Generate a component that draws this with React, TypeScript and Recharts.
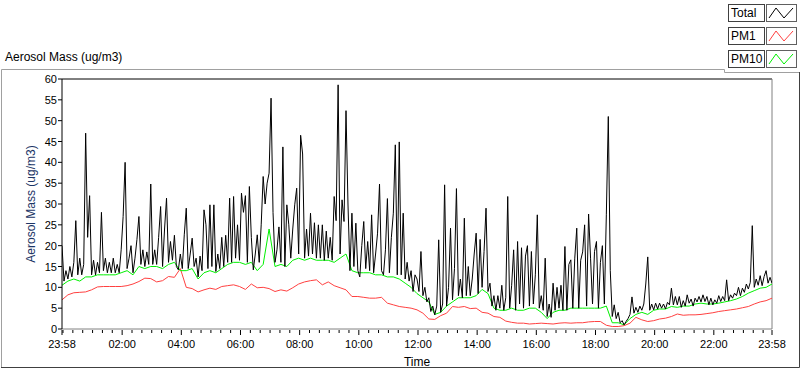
import { LineChart, Line, XAxis, YAxis, ReferenceLine } from 'recharts'

// minutes after 23:58, one Total sample every 4 min, PM samples every 12 min
const TOTAL_STEP = 4
const PM_STEP = 12

const TOTAL = [
  20, 11.5, 14, 12, 15, 12.5, 16, 26, 13, 17,
  13, 15.5, 47, 22, 32, 13, 16.5, 13, 16, 13.5,
  28, 14, 17, 13.5, 16, 13.5, 17, 13.5, 15.5, 13.5,
  19, 27, 40, 14.5, 17, 20, 13.5, 17, 21.5, 27,
  15.5, 19, 15, 18.5, 15.5, 34.8, 15.5, 19, 15.5, 22,
  29.4, 15, 24, 31.4, 16, 21, 16.5, 22.5, 15, 14.2,
  18, 14.5, 22.6, 29, 14.5, 18, 21.8, 15, 17, 12.5,
  17.5, 14, 28.6, 25, 14.5, 29.8, 15, 29.8, 13.8, 18,
  14.5, 22, 15, 22.5, 16, 31.4, 16, 31.8, 17, 25,
  16.5, 32.6, 28, 32, 16, 34.2, 22, 14.2, 18, 22.6,
  16, 25, 36.6, 30, 35, 37.4, 55.4, 28, 16, 19,
  24.5, 16, 43.7, 15, 29.8, 25, 17, 24, 29.8, 33.8,
  18, 46.5, 42, 17, 24, 17.5, 27.8, 18, 25.5, 17,
  25, 17, 25, 16.5, 23.5, 17, 22, 16.5, 31.8, 26,
  58.6, 18, 31, 25.8, 52.4, 30, 14, 27.8, 15, 25.4,
  14, 12.5, 20, 25.8, 14.5, 21, 14, 27.4, 13.5, 18,
  23, 34.8, 14, 13, 19, 31.3, 13.5, 22, 27.8, 44.2,
  13, 44.9, 13, 27.8, 12, 16, 11.5, 14, 9, 13,
  12, 9, 18.6, 8, 10, 6.5, 7.5, 4.2, 5.5, 3.4,
  5.5, 21.4, 4, 6, 34.6, 5.5, 10, 24.2, 7, 14.5,
  33.7, 8, 12, 7.5, 26.6, 8, 15, 8, 12, 18,
  23, 8.5, 21.5, 10, 18.6, 29, 9, 11, 5.5, 8,
  4.5, 8, 5, 10.5, 4.5, 7.5, 31.8, 5, 10.5, 19,
  4.5, 21, 6, 19.5, 5, 17.5, 20, 5.5, 18.6, 6,
  13, 27.4, 5, 8, 4.5, 17, 3, 6, 2.8, 11,
  4.5, 10, 5, 10.5, 4.5, 19.8, 4.5, 15.5, 16.6, 5,
  17, 24.2, 5, 16.5, 18.5, 25, 5.5, 27.6, 17, 6,
  18.6, 21, 5, 16, 20, 6, 27.4, 51, 14, 3,
  5.8, 2.5, 4, 1.5, 2, 1, 1.8, 2.5, 3.5, 7.7,
  3.8, 5.2, 4, 5.5, 4.5, 6, 10.8, 17.3, 4.5, 6,
  4.6, 6.2, 4.8, 6.2, 5, 6, 4.8, 6.4, 5.8, 9.8,
  5.8, 7.8, 5.8, 7.8, 5.2, 6.8, 5.5, 8.2, 6.2, 7.2,
  5.5, 7.4, 6.5, 7.8, 6.5, 8.2, 6.6, 7.8, 5.8, 7.4,
  5.8, 7, 6.2, 8, 6.6, 7.8, 6.8, 11.8, 6.8, 8.2,
  7.4, 8.6, 8, 10, 8, 9.8, 8.8, 10.8, 9.6, 11.2,
  24.8, 10, 12, 10.5, 12.8, 10.4, 12.6, 14, 11, 12.4, 11
]

const PM10 = [
  10.5, 11.5, 12, 11.5, 12.5, 12.5, 13, 13, 13, 13,
  13.5, 14, 13, 15, 14.5, 15, 15, 14.5, 15.5, 16,
  14, 14, 14.5, 12, 13.5, 14, 13.5, 14.5, 15.5, 16,
  16, 15.5, 16, 14, 15.5, 24, 15, 15.5, 15, 16.5,
  17, 16.5, 17, 16.5, 16.5, 16.5, 16, 17, 18, 14,
  13.5, 13.5, 13.5, 13, 13, 12.5, 12.5, 12, 11, 10,
  8.5, 7.5, 6.5, 3.5, 4, 5.5, 6.5, 7.5, 7.5, 7.5,
  8, 9.5, 8.5, 5, 4.5, 4.5, 5, 4.5, 4.5, 5,
  5, 4, 2.5, 4, 4.5, 4.5, 5, 5, 5, 5,
  5, 5, 5.5, 1.5, 1.5, 1, 2.5, 3.5, 4, 3.5,
  4.5, 4.8, 4.8, 5.4, 5.2, 5.5, 5.5, 6, 6.2, 6,
  6, 6.2, 6.5, 6.8, 7.2, 7.8, 8.6, 9.2, 9.8, 10,
  10.8
]

const PM1 = [
  7, 8.2, 8.7, 8.8, 8.9, 9.4, 10.1, 10.2, 10.2, 10.2,
  10.2, 10.4, 10.8, 11.4, 12.2, 12.1, 11.3, 11.6, 12.6, 12.4,
  14.5, 10, 9.7, 8.9, 9.4, 9.8, 9.5, 10.2, 10.4, 10.6,
  10.2, 9.5, 10.8, 9.9, 10, 9.7, 9, 9.4, 9.1, 9.9,
  10.8, 11.3, 11.6, 11.8, 10.6, 11.3, 10.4, 9.9, 9.4, 7.8,
  7.8, 7.6, 7.4, 7.4, 7.6, 6.2, 5.8, 5.4, 5.2, 5,
  4.6, 3.8, 2.4, 2.3, 3.2, 3.8, 5.4, 5.2, 5.4, 4.9,
  5, 4, 3.8, 3, 2.8, 1.9, 1.6, 1.4, 1.4, 1.2,
  1.3, 1.4, 1.3, 1.2, 1.4, 1.5, 1.4, 1.5, 1.5, 1.7,
  1.8, 1.8, 0.9, 0.6, 0.6, 0.8, 1.4, 2.8, 2.2, 1.8,
  2, 2.4, 2.6, 3, 3.6, 3.3, 3.4, 3.4, 3.5, 3.7,
  3.9, 4.2, 4.4, 4.6, 4.8, 5.1, 5.4, 6, 6.5, 6.8,
  7.4
]

const MAJOR_TICKS = [0, 122, 242, 362, 482, 602, 722, 842, 962, 1082, 1202, 1322, 1440]
const MAJOR_LABELS = ['23:58', '02:00', '04:00', '06:00', '08:00', '10:00', '12:00', '14:00', '16:00', '18:00', '20:00', '22:00', '23:58']
const MINOR_TICKS = Array.from({ length: 72 }, (_, k) => 2 + k * 20)
const X_TICKS = [...new Set([...MAJOR_TICKS, ...MINOR_TICKS])].sort((a, b) => a - b)
const Y_TICKS = [0, 5, 10, 15, 20, 25, 30, 35, 40, 45, 50, 55, 60]

const totalData = TOTAL.map((v, i) => ({ t: i * TOTAL_STEP, v }))
const pm10Data = PM10.map((v, i) => ({ t: i * PM_STEP, v }))
const pm1Data = PM1.map((v, i) => ({ t: i * PM_STEP, v }))

const FONT = '"Liberation Sans", Arial, sans-serif'

function XTick({ x, y, payload }: any) {
  const idx = MAJOR_TICKS.indexOf(payload.value)
  const major = idx >= 0
  return (
    <g>
      <line x1={x} x2={x} y1={y + 1} y2={y + (major ? 6 : 4)} stroke="#000" />
      {major && (
        <text x={x} y={y + 19} textAnchor="middle" fontSize={11} fontFamily={FONT} fill="#000">
          {MAJOR_LABELS[idx]}
        </text>
      )}
    </g>
  )
}

function YTick({ x, y, payload }: any) {
  return (
    <g>
      <line x1={x - 4} x2={x} y1={y} y2={y} stroke="#000" />
      <text x={x - 5} y={y + 4} textAnchor="end" fontSize={11} fontFamily={FONT} fill="#000">
        {payload.value}
      </text>
    </g>
  )
}

const LEGEND = [
  { name: 'Total', color: '#000000' },
  { name: 'PM1', color: '#ff4040' },
  { name: 'PM10', color: '#00f000' }
]

function Legend() {
  return (
    <>
      {LEGEND.map((s, k) => (
        <div key={s.name}>
          <div
            style={{
              position: 'absolute', left: 728, top: 4 + k * 23, width: 33, height: 16,
              border: '1px solid #404040', fontSize: 12, fontFamily: FONT, lineHeight: '16px',
              paddingLeft: 2, boxSizing: 'content-box', background: '#fff'
            }}
          >
            {s.name}
          </div>
          <svg
            width={31}
            height={18}
            style={{ position: 'absolute', left: 766, top: 4 + k * 23, background: '#fff' }}
          >
            <rect x={0.5} y={0.5} width={30} height={17} fill="none" stroke="#606060" />
            <polyline points="3,14 10,4 18,14 27,4" fill="none" stroke={s.color} strokeWidth={1} />
          </svg>
        </div>
      ))}
    </>
  )
}

export default function App() {
  return (
    <div style={{ position: 'absolute', left: 0, top: 0, width: 800, height: 369, background: '#fff', overflow: 'hidden' }}>
      <svg width={800} height={369} style={{ position: 'absolute', left: 0, top: 0 }}>
        <path d="M1.5,368 V69.5 H724.5 V72.5 H799" fill="none" stroke="#a0a0a0" />
        <path d="M799.5,72 V367.5 H1" fill="none" stroke="#404040" />
      </svg>

      <div style={{ position: 'absolute', left: 5, top: 50, fontSize: 12, fontFamily: FONT, color: '#000' }}>
        Aerosol Mass (ug/m3)
      </div>

      <Legend />

      <div style={{ position: 'absolute', left: 0, top: 0 }}>
        <LineChart width={800} height={369} margin={{ top: 79, right: 28, bottom: 15, left: 22 }}>
          <XAxis
            dataKey="t"
            type="number"
            domain={[0, 1440]}
            ticks={X_TICKS}
            interval={0}
            tick={<XTick />}
            tickLine={false}
            tickSize={0}
            tickMargin={0}
            axisLine={{ stroke: '#808080' }}
            height={25}
            allowDataOverflow
            label={{ value: 'Time', position: 'insideBottom', offset: -12, fontSize: 12, fontFamily: FONT, fill: '#000' }}
          />
          <YAxis
            type="number"
            domain={[0, 60]}
            ticks={Y_TICKS}
            interval={0}
            tick={<YTick />}
            tickLine={false}
            tickSize={0}
            tickMargin={0}
            axisLine={{ stroke: '#000' }}
            width={40}
            label={{
              value: 'Aerosol Mass (ug/m3)', angle: -90, position: 'insideLeft', offset: 9,
              fontSize: 12, fontFamily: FONT, fill: '#1c3566', style: { textAnchor: 'middle' }
            }}
          />
          <ReferenceLine y={60} stroke="#000" ifOverflow="extendDomain" />
          <ReferenceLine x={1440} stroke="#808080" ifOverflow="extendDomain" />
          <Line data={pm1Data} dataKey="v" type="linear" stroke="#ff4040" strokeWidth={1} dot={false} isAnimationActive={false} />
          <Line data={pm10Data} dataKey="v" type="linear" stroke="#00f000" strokeWidth={1} dot={false} isAnimationActive={false} />
          <Line data={totalData} dataKey="v" type="linear" stroke="#000" strokeWidth={1} dot={false} isAnimationActive={false} />
        </LineChart>
      </div>
    </div>
  )
}
